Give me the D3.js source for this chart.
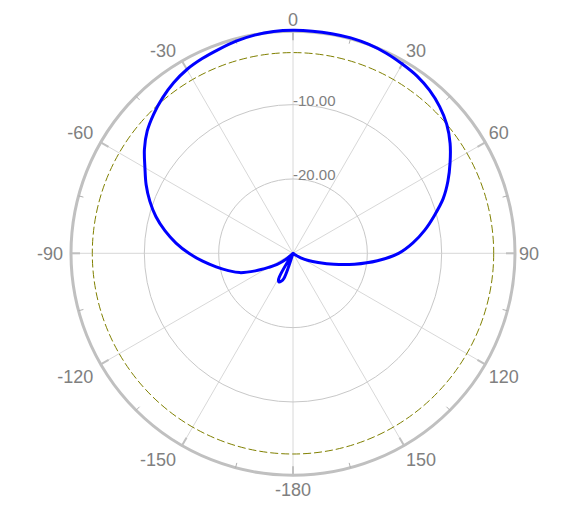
<!DOCTYPE html>
<html><head><meta charset="utf-8">
<script src="https://cdn.jsdelivr.net/npm/d3@7"></script>
<style>html,body{margin:0;padding:0;background:#fff;}svg{display:block;font-family:"Liberation Sans",Arial,sans-serif;}</style>
</head><body>
<svg id="chart" width="588" height="506"></svg>
<script>
// Angle ticks (degrees, clockwise from top) and their labels
const angleTicks = [0, 30, 60, 90, 120, 150, 180, 210, 240, 270, 300, 330];
const angleLabels = ["0", "30", "60", "90", "120", "150", "-180", "-150", "-120", "-90", "-60", "-30"];
// Radial grid levels (dB)
const ringLevels = [-20, -10];
const ringLabels = ["-20.00", "-10.00"];
const refLevel = -3;
const radialMin = -30, radialMax = 0;
// Pattern data: bearing (deg) and gain (dB)
const angles = [-180, -165, -162, -160, -157, -154, -151, -149, -140, -135, -130, -125, -120, -115, -110, -105, -100, -95, -90, -85, -80, -75, -70, -65, -60, -55, -50, -45, -40, -35, -30, -25, -20, -15, -10, -5, 0, 5, 10, 15, 20, 25, 30, 35, 40, 45, 50, 55, 60, 65, 70, 75, 80, 85, 90, 95, 100, 105, 110, 115, 120, 125, 130, 150];
const gain = [-30, -30, -30, -26.4, -25.9, -25.7, -26.0, -30, -30, -30, -28.7, -27.4, -26.2, -24.4, -22.4, -21.0, -19.5, -17.8, -16.0, -14.2, -12.5, -10.9, -9.5, -8.2, -7.0, -5.6, -4.4, -3.5, -2.7, -2.0, -1.45, -1.1, -0.8, -0.45, -0.2, -0.05, 0, 0, 0, 0, -0.1, -0.3, -0.6, -0.9, -1.4, -2.1, -3.0, -4.2, -5.6, -7.0, -8.5, -10.3, -12.0, -13.8, -15.8, -18.6, -21.6, -24.3, -26.4, -27.7, -28.8, -29.6, -30, -30];

const svg = d3.select("#chart");
const cx = 293, cy = 253.3;
const R = 223;
const r = d3.scaleLinear().domain([radialMin, radialMax]).range([0, R]).clamp(true);
const rad = d => d * Math.PI / 180;
const g = svg.append("g").attr("transform", `translate(${cx},${cy})`);

// spokes
g.selectAll(".spoke").data(angleTicks).join("line")
  .attr("x1", 0).attr("y1", 0)
  .attr("x2", d => R * Math.sin(rad(d))).attr("y2", d => -R * Math.cos(rad(d)))
  .attr("stroke", "#d8d8d8").attr("stroke-width", 1);

// rings
g.selectAll(".ring").data(ringLevels).join("circle")
  .attr("r", d => r(d)).attr("fill", "none").attr("stroke", "#c8c8c8").attr("stroke-width", 1);

// reference dashed ring
g.append("circle").attr("r", r(refLevel)).attr("fill", "none")
  .attr("stroke", "#808000").attr("stroke-width", 1).attr("stroke-dasharray", "8,3");

// outer circle
const Ro = r(radialMax) - 1;
g.append("circle").attr("r", Ro).attr("fill", "none").attr("stroke", "#c0c0c0").attr("stroke-width", 3);

// major and minor ticks
g.selectAll(".tick").data(angleTicks).join("line")
  .attr("x1", d => Ro * Math.sin(rad(d))).attr("y1", d => -Ro * Math.cos(rad(d)))
  .attr("x2", d => (Ro - 9) * Math.sin(rad(d))).attr("y2", d => -(Ro - 9) * Math.cos(rad(d)))
  .attr("stroke", "#c0c0c0").attr("stroke-width", 2);
g.selectAll(".mtick").data(angleTicks.map(a => a + 15)).join("line")
  .attr("x1", d => Ro * Math.sin(rad(d))).attr("y1", d => -Ro * Math.cos(rad(d)))
  .attr("x2", d => (Ro - 5) * Math.sin(rad(d))).attr("y2", d => -(Ro - 5) * Math.cos(rad(d)))
  .attr("stroke", "#b0b0b0").attr("stroke-width", 1);

// ring labels
g.selectAll(".rl").data(ringLevels).join("text")
  .attr("x", 0).attr("y", d => -r(d) + 1.5)
  .attr("font-size", 15).attr("fill", "#808080")
  .text((d, i) => ringLabels[i]);

// angle labels
const capH = 18 * 0.716;
g.selectAll(".al").data(angleTicks).join("text")
  .attr("font-size", 18).attr("fill", "#808080")
  .text((d, i) => angleLabels[i])
  .each(function(d) {
    const s = Math.sin(rad(d)), c = Math.cos(rad(d));
    const px = 226 * s, py = -226 * c;
    const sel = d3.select(this);
    if (s > 0.01) sel.attr("text-anchor", "start").attr("x", px);
    else if (s < -0.01) sel.attr("text-anchor", "end").attr("x", px - 4);
    else sel.attr("text-anchor", "middle").attr("x", px);
    let y;
    if (c > 0.01) y = py - 1;
    else if (c < -0.01) y = py + 4 + capH;
    else y = py + capH / 2;
    sel.attr("y", y);
  });

// pattern
const pts = angles.map((a, i) => [rad(a), r(gain[i])]);
const line = d3.lineRadial().angle(d => d[0]).radius(d => d[1]).curve(d3.curveCatmullRomClosed.alpha(0.5));
g.append("path").attr("d", line(pts)).attr("fill", "none")
  .attr("stroke", "#0000ff").attr("stroke-width", 3).attr("stroke-linejoin", "round");
</script>
</body></html>
